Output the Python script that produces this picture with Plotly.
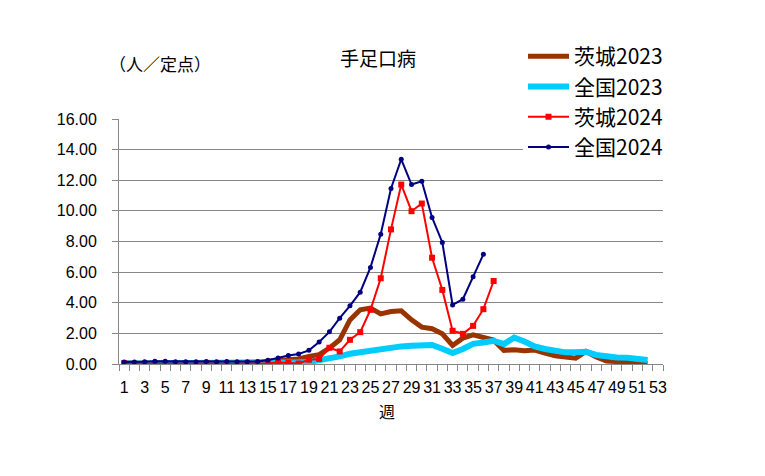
import plotly.graph_objects as go

weeks_2023 = list(range(1, 53))
weeks_2024_ibaraki = list(range(1, 38))
weeks_2024_national = list(range(1, 37))

ibaraki_2023 = [0.08, 0.06, 0.05, 0.05, 0.04, 0.04, 0.05, 0.05, 0.06, 0.05,
                0.06, 0.08, 0.10, 0.12, 0.18, 0.22, 0.28, 0.33, 0.50, 0.61,
                1.04, 1.58, 2.88, 3.54, 3.65, 3.27, 3.43, 3.47, 2.88, 2.41,
                2.30, 1.97, 1.21, 1.69, 1.91, 1.73, 1.56, 0.89, 0.93, 0.87,
                0.91, 0.72, 0.54, 0.46, 0.38, 0.82, 0.46, 0.20, 0.17, 0.15,
                0.11, 0.03]

national_2023 = [0.04, 0.04, 0.03, 0.03, 0.03, 0.03, 0.03, 0.03, 0.03, 0.03,
                 0.03, 0.04, 0.04, 0.05, 0.06, 0.08, 0.10, 0.11, 0.13, 0.24,
                 0.39, 0.50, 0.67, 0.78, 0.89, 0.93, 1.06, 1.15, 1.19, 1.21,
                 1.24, 1.00, 0.72, 0.98, 1.32, 1.41, 1.52, 1.30, 1.73, 1.47,
                 1.15, 0.98, 0.85, 0.76, 0.76, 0.80, 0.59, 0.48, 0.43, 0.41,
                 0.35, 0.26]

ibaraki_2024 = [0.05, 0.02, 0.03, 0.02, 0.03, 0.02, 0.02, 0.02, 0.05, 0.03,
                0.02, 0.02, 0.02, 0.03, 0.05, 0.10, 0.08, 0.03, 0.28, 0.33,
                1.06, 0.82, 1.58, 2.08, 3.54, 5.60, 8.79, 11.72, 9.98, 10.48,
                6.94, 4.84, 2.17, 1.97, 2.49, 3.58, 5.42]

national_2024 = [0.13, 0.13, 0.14, 0.18, 0.18, 0.14, 0.14, 0.14, 0.17, 0.14,
                 0.17, 0.14, 0.14, 0.17, 0.24, 0.39, 0.56, 0.65, 0.89, 1.44,
                 2.10, 2.99, 3.80, 4.69, 6.31, 8.48, 11.46, 13.37, 11.72, 11.93,
                 9.57, 7.94, 3.86, 4.23, 5.70, 7.16]

x_tick_values = list(range(1, 54, 2))
x_tick_labels = [str(v) for v in x_tick_values]
y_tick_values = list(range(0, 17, 2))
y_tick_labels = ["%.2f" % v for v in y_tick_values]

GRID = "#878787"
JP = "Noto Sans CJK JP"
LAT = "Liberation Sans"

fig = go.Figure()
fig.add_trace(go.Scatter(x=weeks_2023, y=ibaraki_2023, name="茨城2023", mode="lines",
                         line=dict(color="#993300", width=5), legendgroup="a"))
fig.add_trace(go.Scatter(x=weeks_2023, y=national_2023, name="全国2023", mode="lines",
                         line=dict(color="#00CCFF", width=6), legendgroup="b"))
fig.add_trace(go.Scatter(x=weeks_2024_ibaraki, y=ibaraki_2024, name="茨城2024", mode="lines+markers",
                         line=dict(color="#FF0000", width=2),
                         marker=dict(symbol="square", size=6, color="#FF0000"), legendgroup="c"))
fig.add_trace(go.Scatter(x=weeks_2024_national, y=national_2024, name="全国2024", mode="lines+markers",
                         line=dict(color="#000080", width=2),
                         marker=dict(symbol="circle", size=5, color="#000080"), legendgroup="d"))

fig.update_layout(
    width=765, height=476,
    margin=dict(l=119, r=102, t=119, b=112),
    paper_bgcolor="white", plot_bgcolor="white",
    showlegend=True,
    legend=dict(x=(523 - 119) / 544, y=(364 - 36) / 245, xanchor="left", yanchor="top",
                bgcolor="white", font=dict(family=JP, size=21, color="black"),
                tracegroupgap=0, borderwidth=0, itemwidth=41),
    xaxis=dict(range=[0.5, 53.5], tickmode="array", tickvals=x_tick_values, ticktext=x_tick_labels,
               ticks="outside", ticklen=6, tickcolor="rgba(0,0,0,0)",
               minor=dict(tick0=0.5, dtick=1, ticks="outside", ticklen=6, tickcolor=GRID, tickwidth=1),
               showline=True, linecolor=GRID, linewidth=1, showgrid=False, zeroline=False,
               tickfont=dict(family=LAT, size=16, color="black"), ticklabelstandoff=3),
    yaxis=dict(range=[0, 16], tickmode="array", tickvals=y_tick_values, ticktext=y_tick_labels,
               ticks="outside", ticklen=6, tickcolor=GRID, showline=True, linecolor=GRID, linewidth=1,
               showgrid=True, gridcolor=GRID, gridwidth=1, zeroline=False,
               tickfont=dict(family=LAT, size=16, color="black"), ticklabelstandoff=12),
    annotations=[
        dict(text="手足口病", x=378, y=58, xref="paper", yref="paper", showarrow=False,
             font=dict(family=JP, size=19, color="black")),
        dict(text="（人／定点）", x=160, y=64, showarrow=False, font=dict(family=JP, size=17, color="black")),
        dict(text="週", x=387, y=411, showarrow=False, font=dict(family=JP, size=16, color="black")),
    ],
)

# convert pixel positions of the text annotations into paper coordinates
for ann in fig.layout.annotations:
    px, py = ann.x, ann.y
    ann.x = (px - 119) / 544
    ann.y = (364 - py) / 245
    ann.xref = "paper"
    ann.yref = "paper"
    ann.xanchor = "center"
    ann.yanchor = "middle"

fig.write_html("out.html")
